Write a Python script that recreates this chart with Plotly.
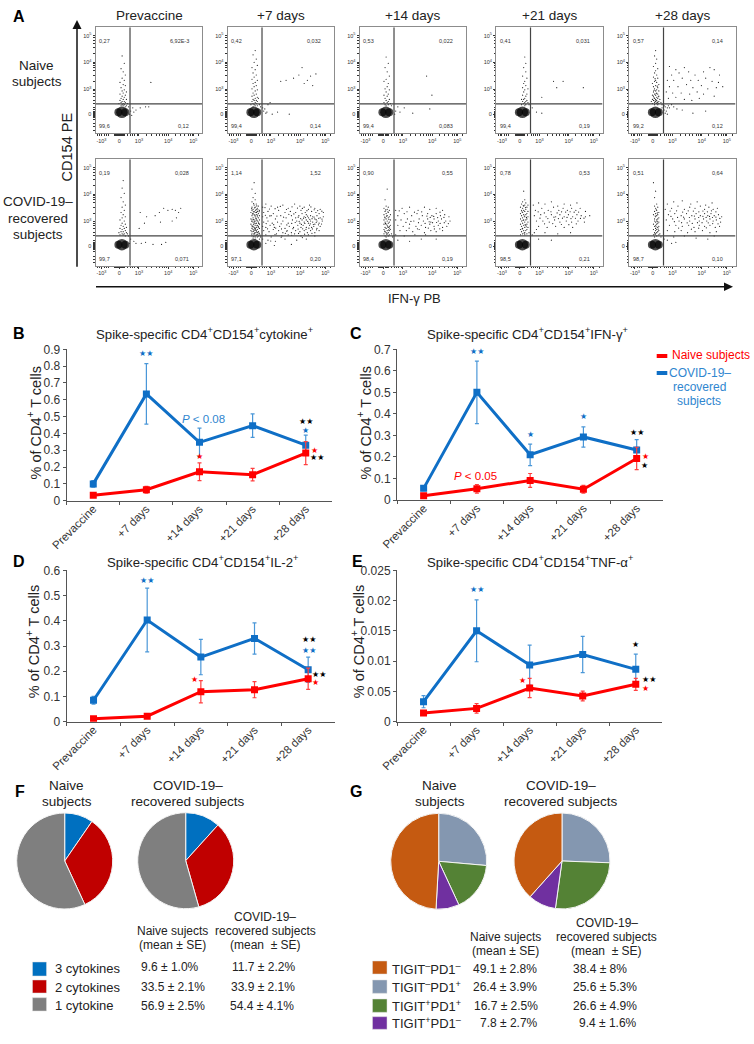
import plotly.graph_objects as go

W, H = 754, 1044
FONT = "Liberation Sans"
BLUE, RED = "#0F6FC6", "#FF0000"

# ---------- Panel A: values (box units 0-100) ----------
days = ["Prevaccine", "+7 days", "+14 days", "+21 days", "+28 days"]
flow_col_px = [(95.5, 202), (227.5, 334), (359.5, 466), (496, 602.5), (629, 735.5)]
flow_row_px = [(27.3, 133.3), (159.3, 265.7)]
flow_q_x, flow_q_y = 32.4, [27.7, 28.1]
flow_xt_val = [5.6, 22.3, 40.8, 68.3, 91.8]
flow_xt_txt = ["-10<sup>3</sup>", "0", "10<sup>3</sup>", "10<sup>4</sup>", "10<sup>5</sup>"]
flow_yt_val = [18.2, 41.5, 67, 92.1]
flow_yt_txt = ["0", "10<sup>3</sup>", "10<sup>4</sup>", "10<sup>5</sup>"]
flow_minor_x = [2, 4, 8, 10, 12, 18, 19, 20, 21, 22, 23, 24, 25, 26, 27, 30, 33, 35, 37, 39, 48, 53, 57, 60, 63, 65, 67, 75, 80, 84, 87, 89, 91, 97]
flow_minor_y = [3, 6, 9, 13, 15, 16, 17, 18, 19, 20, 21, 22, 24, 28, 31, 35, 38, 40, 49, 55, 59, 62, 64, 66, 75, 81, 85, 88, 90]
flow_blob_x = [21.5, 24.8, 28]
flow_blob_y = [19.8, 19.8, 19.8]

gate_naive = [["0,27", "6,92E-3", "99,6", "0,12"], ["0,42", "0,032", "99,4", "0,14"],
              ["0,53", "0,022", "99,4", "0,083"], ["0,41", "0,031", "99,4", "0,19"],
              ["0,57", "0,14", "99,2", "0,12"]]
gate_conv = [["0,19", "0,028", "99,7", "0,071"], ["1,14", "1,52", "97,1", "0,20"],
             ["0,90", "0,55", "98,4", "0,19"], ["0,78", "0,53", "98,5", "0,21"],
             ["0,51", "0,64", "98,7", "0,10"]]

dots_naive_pre = [(25,73),(27,66),(24,61),(26,58),(28,55),(25,52),(27,50),(23,48),(26,46),(28,45),(24,43),(27,41),(25,40),(29,39),(26,38),(23,37),(28,36),(25,35),(27,34),(24,33),(26,32),(29,32),(23,31),(25,30),(27,30),(28,29),(24,29),(26,28),(22,28),(30,28),(25,27),(27,27),(24,26),(29,26),(26,26),(31,25),(28,25),(35,24),(38,22),(42,24),(47,25),(50,25),(36,20),(34,17),(33,21),(52,48),(32,18)]
dots_naive_d7 = [(26,78),(24,74),(27,70),(25,67),(28,64),(23,62),(26,60),(24,57),(27,55),(25,53),(23,51),(28,50),(26,48),(24,47),(27,45),(25,44),(23,42),(28,41),(26,40),(24,38),(27,37),(25,36),(23,35),(28,34),(26,33),(29,33),(24,32),(27,31),(25,31),(23,30),(28,30),(26,29),(24,28),(27,28),(25,27),(30,27),(22,27),(26,26),(28,26),(24,25),(31,25),(33,24),(35,23),(38,27),(40,29),(37,20),(42,18),(47,20),(58,18),(50,49),(55,50),(62,52),(67,55),(70,62),(75,50),(78,54),(83,56),(80,45),(72,47),(34,21),(36,19)]
dots_naive_d14 = [(25,72),(27,66),(24,62),(26,58),(28,54),(25,51),(23,49),(27,47),(26,44),(24,42),(28,41),(25,39),(27,37),(23,36),(26,35),(24,33),(28,32),(25,31),(27,30),(23,29),(26,29),(29,28),(24,27),(27,27),(25,26),(30,26),(63,54),(68,36),(66,23),(50,19),(36,25),(38,20),(42,24),(34,21),(33,18)]
dots_naive_d21 = [(27,72),(28,66),(26,62),(28,58),(25,54),(29,52),(27,49),(26,47),(28,45),(25,43),(30,42),(27,41),(26,39),(29,37),(25,36),(28,35),(27,33),(24,32),(26,32),(29,31),(28,30),(25,30),(27,29),(30,29),(26,28),(24,27),(28,27),(31,27),(27,26),(54,49),(63,49),(57,43),(82,43),(43,34),(38,20),(43,19),(34,24)]
dots_naive_d28 = [(25,78),(24,73),(26,70),(25,66),(23,63),(27,61),(25,59),(24,57),(26,55),(23,53),(27,52),(25,50),(24,49),(26,48),(22,47),(28,46),(25,45),(23,44),(27,43),(24,42),(26,41),(25,40),(28,40),(23,39),(26,38),(24,37),(27,37),(22,36),(25,36),(28,35),(23,35),(26,34),(24,33),(27,33),(25,32),(22,32),(29,32),(26,31),(23,31),(28,30),(25,30),(21,30),(27,29),(24,29),(30,29),(26,28),(22,28),(28,28),(24,27),(31,27),(27,27),(33,26),(31,24),(34,25),(36,24),(33,22),(35,21),(38,24),(37,26),(40,27),(34,19),(36,18),(42,25),(45,23),(50,22),(60,19),(72,21),(38,63),(44,60),(52,62),(40,55),(47,57),(56,58),(62,55),(70,58),(76,62),(80,60),(85,55),(36,50),(42,50),(50,52),(58,50),(65,50),(72,52),(78,49),(84,48),(88,44),(38,44),(46,44),(54,46),(60,43),(68,45),(74,42),(82,43),(35,39),(41,38),(49,38),(57,37),(64,39),(70,37),(80,35),(37,33),(44,34),(52,32),(59,31),(66,33),(24.5,51.5),(26.5,44.5),(23.5,40.5),(25.5,37.5),(27.5,34.5),(24.5,30.5),(26.5,29.5),(23.5,33.5),(25.5,28.5)]
dots_conv_pre = [(26,80),(25,73),(27,68),(24,64),(26,60),(28,57),(25,55),(27,52),(24,50),(26,48),(28,46),(25,45),(23,43),(27,42),(25,40),(28,39),(24,38),(26,37),(29,36),(23,35),(27,35),(25,34),(28,33),(24,32),(26,32),(22,31),(29,31),(27,30),(25,30),(30,30),(23,29),(26,29),(28,28),(31,28),(33,25),(36,23),(32,21),(38,21),(43,21),(47,22),(54,20),(62,20),(66,22),(42,50),(48,46),(56,47),(60,50),(64,54),(68,52),(72,53),(75,52),(78,50),(76,45),(72,42),(80,54),(46,40),(61,41),(41,35)]
dots_conv_d7 = [(25,78),(23,72),(26,68),(24,64),(26,62),(23,60),(27,58),(25,57),(29,56),(23,55),(26,55),(28,54),(24,53),(27,53),(30,52),(23,52),(25,51),(28,51),(26,50),(22,50),(29,49),(24,49),(27,48),(25,48),(30,47),(23,47),(26,46),(28,46),(24,45),(29,45),(22,44),(27,44),(25,43),(30,43),(23,43),(28,42),(26,42),(24,41),(29,41),(27,40),(25,40),(22,39),(30,39),(23,38),(26,38),(28,38),(24,37),(29,37),(27,36),(25,36),(23,35),(30,35),(26,35),(28,34),(24,34),(22,33),(27,33),(25,33),(29,32),(23,32),(26,31),(28,31),(24,30),(30,30),(27,29),(25,29),(23,28),(29,28),(26,27),(31,27),(28,27),(24,26),(26,25),(30,25),(33,55),(36,58),(41,56),(47,55),(52,57),(57,54),(63,58),(68,56),(72,55),(77,57),(82,54),(87,53),(34,50),(38,51),(43,49),(48,52),(54,50),(59,51),(64,50),(69,52),(73,50),(76,53),(79,51),(83,50),(86,49),(90,50),(33,46),(37,45),(41,47),(45,44),(50,47),(55,45),(60,47),(64,45),(67,47),(70,49),(72,46),(74,48),(76,45),(78,47),(80,46),(82,44),(84,47),(87,45),(90,46),(34,41),(38,42),(42,40),(47,41),(52,42),(57,40),(61,43),(65,42),(68,40),(70,43),(72,41),(74,43),(76,40),(78,42),(80,41),(82,39),(84,42),(86,40),(89,42),(33,37),(36,36),(40,38),(44,36),(49,37),(54,35),(58,37),(62,36),(66,38),(69,36),(71,38),(74,36),(77,38),(79,36),(81,37),(84,35),(87,37),(34,33),(39,32),(43,34),(48,33),(52,31),(56,33),(60,31),(64,33),(68,32),(72,33),(75,31),(78,33),(82,31),(86,33),(36,29),(41,27),(46,30),(51,28),(57,29),(63,30),(69,28),(76,29),(82,28),(33,25),(38,24),(45,23),(54,25),(65,24),(74,25),(36,21),(44,19),(60,20),
    (24.5,58.3),(27.5,56.2),(25.5,54.4),(22.7,53.6),(28.6,52.6),(26.4,52.1),(24.2,50.6),(27.3,50.1),(29.7,50.8),(23.4,48.7),(25.8,47.2),(28.2,47.6),(26.6,44.7),(24.3,43.4),(27.6,42.8),(22.9,41.6),(25.4,41.3),(29.3,39.7),(26.7,39.6),(24.6,38.7),(27.8,37.6),(23.2,36.7),(25.6,34.6),(28.9,35.8),(26.3,33.6),(24.4,32.4),(27.4,31.7),(29.6,30.6),(25.3,30.6),(22.6,29.8),(26.8,28.4),(24.7,27.4),(28.4,29.3),(30.6,28.7),(35.2,54.6),(39.4,53.3),(44.7,53.6),(49.6,55.7),(55.4,52.8),(60.6,55.3),(65.7,54.2),(70.3,53.8),(74.6,51.7),(78.3,55.2),(81.4,52.6),(84.7,51.8),(88.6,51.2),(35.6,47.4),(39.7,46.8),(46.4,46.6),(52.7,45.6),(57.6,48.3),(62.3,48.7),(66.4,45.6),(68.7,44.3),(71.4,44.7),(73.3,45.2),(75.2,46.6),(77.3,43.6),(79.4,44.2),(81.3,45.7),(83.2,43.3),(85.6,44.6),(88.7,43.8),(36.3,39.6),(43.4,38.6),(50.4,39.4),(55.7,38.3),(60.3,39.7),(63.6,40.6),(67.3,41.7),(69.4,38.8),(72.6,39.7),(75.3,41.6),(77.7,39.4),(80.6,38.7),(83.3,40.6),(85.4,38.4),(88.3,39.2),(37.6,34.7),(45.3,35.4),(50.7,34.6),(55.6,32.4),(61.4,34.8),(66.3,34.4),(70.6,34.7),(73.7,34.2),(76.4,35.3),(79.7,34.6),(83.6,33.7),(44.6,29.3),(54.3,30.4),(60.3,28.6),(66.7,30.3),(72.4,29.6),(79.3,30.4),(40.6,23.2),(50.4,26.7),(70.3,26.4)]
dots_conv_d14 = [(26,72),(24,62),(25,56),(27,55),(23,54),(26,53),(28,52),(24,51),(27,50),(25,49),(29,48),(23,48),(26,47),(28,46),(24,45),(27,45),(25,44),(23,43),(29,43),(26,42),(28,41),(24,41),(27,40),(25,39),(23,39),(29,38),(26,38),(28,37),(24,36),(27,36),(25,35),(23,34),(29,34),(26,33),(28,33),(24,32),(27,31),(25,31),(30,30),(26,30),(23,30),(28,29),(24,28),(27,28),(31,27),(25,27),(34,52),(40,54),(47,55),(55,52),(61,55),(66,53),(72,54),(78,52),(36,47),(42,49),(49,47),(54,49),(59,47),(64,49),(68,47),(72,49),(76,47),(80,48),(84,46),(34,43),(39,43),(45,44),(51,42),(56,44),(60,42),(64,44),(67,41),(70,44),(74,42),(77,44),(81,42),(85,42),(36,38),(41,37),(47,39),(53,37),(58,38),(62,36),(66,39),(70,37),(74,38),(78,36),(82,37),(38,33),(44,33),(50,32),(56,34),(61,31),(67,33),(72,32),(78,33),(34,29),(42,28),(52,29),(62,29),(36,24),(47,23),(58,25),(72,25),
    (24.6,52.4),(26.7,50.6),(25.4,46.6),(23.7,45.7),(27.6,43.4),(24.4,39.7),(26.4,36.6),(28.3,35.4),(23.6,32.6),(25.6,29.7),(27.4,33.6),(37.3,51.6),(44.6,50.7),(51.6,50.3),(58.4,50.6),(63.3,46.6),(66.4,45.4),(69.7,46.3),(73.4,45.2),(75.6,50.3),(79.3,45.4),(43.6,40.7),(48.3,41.6),(55.4,40.4),(61.6,39.7),(65.4,41.3),(68.6,40.4),(72.4,40.6),(75.7,39.7),(79.6,40.4),(83.4,39.6),(46.6,35.3),(54.4,34.7),(64.6,35.4),(70.3,34.6),(75.4,34.7)]
dots_conv_d21 = [(26,70),(27,62),(25,60),(28,59),(24,58),(27,57),(30,57),(26,56),(23,55),(29,55),(25,54),(28,53),(26,52),(24,52),(30,51),(27,51),(25,50),(29,49),(23,49),(26,48),(28,48),(24,47),(27,46),(30,46),(25,45),(29,44),(23,44),(26,43),(28,43),(24,42),(27,41),(30,41),(25,40),(29,39),(23,39),(26,38),(28,38),(24,37),(27,36),(30,36),(25,35),(29,34),(23,34),(26,33),(28,33),(24,32),(27,31),(31,31),(25,30),(29,30),(23,29),(27,29),(34,29),(36,31),(38,34),(35,57),(40,59),(46,58),(52,60),(58,56),(64,58),(70,57),(76,59),(37,52),(43,54),(49,52),(54,55),(59,52),(63,54),(67,52),(71,54),(75,52),(79,54),(84,51),(36,47),(42,48),(47,46),(52,48),(56,46),(60,48),(64,46),(68,48),(72,46),(76,48),(80,47),(84,46),(88,47),(38,42),(44,42),(50,41),(55,43),(60,41),(66,42),(71,41),(77,42),(83,41),(40,37),(48,36),(56,37),(64,36),(72,36),(46,31),(58,30),(70,31),(40,25),(52,24),
    (25.6,56.6),(27.7,54.6),(24.4,50.7),(26.6,46.7),(28.6,45.4),(25.4,42.6),(27.4,38.6),(24.6,34.6),(26.4,30.7),(28.4,36.6),(39.6,50.6),(45.4,49.6),(51.6,50.7),(57.4,49.6),(61.6,50.6),(65.4,50.4),(69.6,50.7),(73.4,50.3),(77.6,50.4),(41.3,44.7),(48.7,44.3),(54.4,45.6),(58.6,44.3),(62.4,44.7),(66.7,45.4),(70.4,44.3),(74.6,44.6),(79.3,44.4),(82.6,44.7),(45.6,39.4),(53.3,39.6),(61.4,38.7),(68.4,38.6),(75.4,39.4)]
dots_conv_d28 = [(23,78),(25,70),(24,64),(26,58),(24,56),(27,55),(25,54),(26,52),(24,51),(28,50),(25,49),(27,48),(23,48),(26,47),(25,46),(28,45),(24,44),(27,44),(26,43),(24,42),(28,41),(25,41),(27,40),(23,39),(26,39),(25,38),(28,37),(24,37),(27,36),(25,35),(26,34),(23,34),(28,33),(25,33),(27,32),(24,31),(26,31),(29,30),(25,30),(23,29),(28,29),(26,28),(30,27),(24,27),(33,25),(36,24),(40,21),(44,22),(36,58),(42,60),(50,61),(58,58),(64,60),(72,57),(78,59),(34,53),(40,54),(46,56),(52,53),(57,55),(62,54),(67,56),(71,53),(75,55),(79,53),(83,54),(37,48),(43,49),(49,47),(54,49),(59,47),(63,49),(67,47),(71,49),(74,47),(77,49),(80,47),(84,48),(87,46),(35,43),(41,44),(47,42),(52,44),(57,42),(62,44),(66,42),(70,44),(73,42),(76,44),(79,42),(82,43),(86,41),(38,38),(44,38),(50,37),(56,38),(61,36),(66,38),(71,37),(76,38),(81,36),(85,37),(36,33),(43,32),(49,33),(55,31),(62,32),(69,33),(76,31),(82,32),(42,27),(52,28),(63,26),(74,25),(80,28),
    (25.6,52.6),(26.6,49.6),(24.6,46.7),(26.4,41.6),(25.4,36.6),(27.4,34.4),(24.4,29.6),(38.6,51.4),(44.7,51.6),(50.4,50.4),(55.6,51.6),(60.4,51.3),(65.6,50.6),(69.4,51.4),(73.6,50.6),(77.4,51.6),(81.6,50.6),(39.4,46.3),(45.6,45.4),(51.3,45.6),(56.7,45.3),(61.4,46.6),(65.4,45.3),(69.4,46.4),(72.4,45.4),(75.6,46.3),(78.4,45.3),(81.6,45.7),(85.3,44.4),(42.6,41.4),(49.4,40.4),(54.6,40.3),(59.4,39.7),(64.3,40.4),(68.6,40.4),(74.4,40.3),(78.6,39.6),(83.6,39.4),(46.6,35.4),(58.6,34.3),(65.4,35.3),(72.6,35.6)]

dots_rows = [[dots_naive_pre, dots_naive_d7, dots_naive_d14, dots_naive_d21, dots_naive_d28],
             [dots_conv_pre, dots_conv_d7, dots_conv_d14, dots_conv_d21, dots_conv_d28]]

# ---------- Panels B-E ----------
b_blue, b_blue_err = [0.10, 0.635, 0.347, 0.446, 0.33], [0.02, 0.18, 0.085, 0.07, 0.06]
b_red, b_red_err = [0.033, 0.065, 0.172, 0.155, 0.283], [0.01, 0.02, 0.053, 0.037, 0.068]
c_blue, c_blue_err = [0.054, 0.50, 0.21, 0.293, 0.232], [0.01, 0.145, 0.05, 0.047, 0.048]
c_red, c_red_err = [0.02, 0.052, 0.091, 0.05, 0.193], [0.005, 0.02, 0.032, 0.018, 0.052]
d_blue, d_blue_err = [0.085, 0.403, 0.256, 0.33, 0.206], [0.015, 0.126, 0.07, 0.062, 0.05]
d_red, d_red_err = [0.012, 0.022, 0.119, 0.127, 0.17], [0.003, 0.005, 0.044, 0.032, 0.042]
e_blue, e_blue_err = [0.0033, 0.015, 0.00936, 0.0111, 0.00865], [0.001, 0.0051, 0.0033, 0.003, 0.0025]
e_red, e_red_err = [0.00143, 0.0022, 0.00556, 0.00424, 0.00617], [0.0003, 0.0008, 0.0016, 0.0008, 0.001]

b_ticks = [0, .1, .2, .3, .4, .5, .6, .7, .8, .9]
c_ticks = [0, .1, .2, .3, .4, .5, .6, .7]
d_ticks = [0, .1, .2, .3, .4, .5, .6]
e_ticks = [0, .005, .01, .015, .02, .025]
e_tick_text = ["0", "0.05", "0.01", "0.015", "0.02", "0.025"]

b_sig = [(1, .873, "★★", BLUE), (2, .262, "★", RED), (4, .47, "★★", "#000"), (4, .42, "★", BLUE), (4.16, .30, "★", RED), (4.21, .256, "★★", "#000")]
c_sig = [(1, .689, "★★", BLUE), (2, .306, "★", BLUE), (3, .389, "★", BLUE), (4, .314, "★★", "#000"), (4.16, .2, "★", RED), (4.14, .158, "★", "#000")]
d_sig = [(1, .559, "★★", BLUE), (4.01, .325, "★★", "#000"), (4.01, .284, "★★", BLUE), (1.89, .168, "★", RED), (4.2, .189, "★★", "#000"), (4.14, .156, "★", RED)]
e_sig = [(1, .02175, "★★", BLUE), (4, .01283, "★", "#000"), (1.87, .00683, "★", RED), (4.25, .00694, "★★", "#000"), (4.18, .00545, "★", RED)]

# ---------- Panels F, G ----------
f_labels = ["3 cytokines", "2 cytokines", "1 cytokine"]
f_naive, f_conv = [9.6, 33.5, 56.9], [11.7, 33.9, 54.4]
f_colors = ["#0070C0", "#C00000", "#7F7F7F"]
g_labels = ["TIGIT<sup>–</sup>PD1<sup>+</sup>", "TIGIT<sup>+</sup>PD1<sup>+</sup>", "TIGIT<sup>+</sup>PD1<sup>–</sup>", "TIGIT<sup>–</sup>PD1<sup>–</sup>"]
g_naive, g_conv = [26.4, 16.7, 7.8, 49.1], [25.6, 26.6, 9.4, 38.4]
g_colors = ["#8497B0", "#548235", "#7030A0", "#C55A11"]


def px(x):
    return x / W


def py(y):
    return 1 - y / H


anns, shapes, layout_axes = [], [], {}
fig = go.Figure()

# full-page overlay axes, in page pixels, for labels and decorations
OV = 15
layout_axes[f"xaxis{OV}"] = dict(domain=[0, 1], range=[0, W], visible=False, anchor=f"y{OV}", fixedrange=True)
layout_axes[f"yaxis{OV}"] = dict(domain=[0, 1], range=[H, 0], visible=False, anchor=f"x{OV}", fixedrange=True)
OX, OY = f"x{OV}", f"y{OV}"


def text(s, x, y, size=13.5, color="#222", anchor="center", angle=0, family=FONT):
    anns.append(dict(text=s, x=x, y=y, xref=OX, yref=OY, showarrow=False,
                     xanchor=anchor, yanchor="middle", textangle=angle,
                     font=dict(size=size, color=color, family=family)))


# Panel A plots
idx = 0
for r, (top, bot) in enumerate(flow_row_px):
    gates = [gate_naive, gate_conv][r]
    for c, (lft, rgt) in enumerate(flow_col_px):
        idx += 1
        xa, ya = f"x{idx}", f"y{idx}"
        layout_axes[f"xaxis{idx}"] = dict(domain=[px(lft), px(rgt)], range=[0, 100], anchor=ya,
            tickvals=flow_xt_val, ticktext=flow_xt_txt, tickfont=dict(size=5.5, color="#333", family=FONT),
            ticks="outside", ticklen=2, tickwidth=1, tickcolor="#333", tickangle=0,
            minor=dict(tickvals=flow_minor_x, ticklen=1.5, ticks="outside", tickcolor="#333"),
            showgrid=False, zeroline=False, showline=True, mirror=True, linecolor="#8c8c8c", linewidth=1)
        layout_axes[f"yaxis{idx}"] = dict(domain=[py(bot), py(top)], range=[0, 100], anchor=xa,
            tickvals=flow_yt_val, ticktext=flow_yt_txt, tickfont=dict(size=5.5, color="#333", family=FONT),
            ticks="outside", ticklen=2, tickwidth=1, tickcolor="#333",
            minor=dict(tickvals=flow_minor_y, ticklen=1.5, ticks="outside", tickcolor="#333"),
            showgrid=False, zeroline=False, showline=True, mirror=True, linecolor="#8c8c8c", linewidth=1)
        pts = dots_rows[r][c]
        fig.add_trace(go.Scatter(x=[p[0] for p in pts], y=[p[1] for p in pts], mode="markers", xaxis=xa, yaxis=ya,
                                 marker=dict(size=1.2, color="#222", line=dict(width=0)), showlegend=False))
        fig.add_trace(go.Scatter(x=flow_blob_x, y=flow_blob_y, mode="markers", xaxis=xa, yaxis=ya,
                                 marker=dict(size=[8, 11.5, 8], color="#000", line=dict(width=0)), showlegend=False))
        shapes.append(dict(type="line", xref=xa, yref=ya, x0=flow_q_x, x1=flow_q_x, y0=0, y1=100,
                           line=dict(color="#444", width=1.2), layer="above"))
        shapes.append(dict(type="line", xref=xa, yref=ya, x0=0, x1=100, y0=flow_q_y[r], y1=flow_q_y[r],
                           line=dict(color="#444", width=1.2), layer="above"))
        for s, gx, gy, anc in zip(gates[c], [1.5, 90, 1.5, 90], [87.5, 87.5, 6.5, 6.5], ["left", "right", "left", "right"]):
            anns.append(dict(text=s, x=gx, y=gy, xref=xa, yref=ya, showarrow=False, xanchor=anc, yanchor="middle",
                             font=dict(size=5.5, color="#333", family=FONT)))

for d, (lft, rgt) in zip(days, flow_col_px):
    text(d, (lft + rgt) / 2 - (0 if d != "Prevaccine" else -1), 15.7, 13.5)
text("Naive", 36.7, 65); text("subjects", 36.7, 81)
text("COVID-19–", 38, 201.7); text("recovered", 38, 218); text("subjects", 38, 234)
text("CD154 PE", 66.7, 146.7, 14.5, angle=-90)
text("IFN-γ PB", 414, 298, 13)
shapes += [
    dict(type="line", xref=OX, yref=OY, x0=77, x1=77, y0=266.7, y1=26, line=dict(color="#111", width=1.5)),
    dict(type="path", xref=OX, yref=OY, path="M 72.5 29 L 81.5 29 L 77 20 Z", fillcolor="#111", line=dict(width=0)),
    dict(type="line", xref=OX, yref=OY, x0=96, x1=726, y0=286.7, y1=286.7, line=dict(color="#111", width=1.5)),
    dict(type="path", xref=OX, yref=OY, path="M 724 282.5 L 724 291 L 733 286.7 Z", fillcolor="#111", line=dict(width=0)),
]

# Panels B-E
panels = [
    ((66.7, 332.3), (349.3, 500.7), (0, .9), b_blue, b_blue_err, b_red, b_red_err, b_ticks, [f"{v:g}" for v in b_ticks], b_sig),
    ((397, 663.3), (349.3, 500), (0, .7), c_blue, c_blue_err, c_red, c_red_err, c_ticks, [f"{v:g}" for v in c_ticks], c_sig),
    ((66.7, 335), (570.3, 721.7), (0, .6), d_blue, d_blue_err, d_red, d_red_err, d_ticks, [f"{v:g}" for v in d_ticks], d_sig),
    ((397, 662.3), (570.3, 721.7), (0, .025), e_blue, e_blue_err, e_red, e_red_err, e_ticks, e_tick_text, e_sig),
]
for (xd, yd, yr, bl, ble, rd, rde, tv, tt, sig) in panels:
    idx += 1
    xa, ya = f"x{idx}", f"y{idx}"
    layout_axes[f"xaxis{idx}"] = dict(domain=[px(xd[0]), px(xd[1])], type="category", range=[-0.5, 4.5], anchor=ya,
        tickson="boundaries", ticks="outside", ticklen=3, tickcolor="#555", tickangle=-45, ticklabelstandoff=-4,
        tickfont=dict(size=11.5, color="#333", family=FONT), showline=True, linecolor="#555", linewidth=1,
        showgrid=False, zeroline=False, categoryorder="array", categoryarray=days)
    layout_axes[f"yaxis{idx}"] = dict(domain=[py(yd[1]), py(yd[0])], range=list(yr), anchor=xa,
        tickvals=tv, ticktext=tt, ticks="outside", ticklen=3, tickcolor="#555",
        tickfont=dict(size=12, color="#333", family=FONT), showline=True, linecolor="#555", linewidth=1,
        showgrid=False, zeroline=False)
    for vals, errs, col, ecol in [(bl, ble, BLUE, "#4a97d8"), (rd, rde, RED, "#ff4040")]:
        fig.add_trace(go.Scatter(x=days, y=vals, mode="lines+markers", xaxis=xa, yaxis=ya, showlegend=False,
                                 line=dict(color=col, width=3), marker=dict(symbol="square", size=7, color=col),
                                 error_y=dict(type="data", array=errs, color=ecol, thickness=1.2, width=2)))
    for sx, sy, st, sc in sig:
        anns.append(dict(text=st, x=sx, y=sy, xref=xa, yref=ya, showarrow=False, xanchor="center", yanchor="middle",
                         font=dict(size=8, color=sc, family="DejaVu Sans")))

anns.append(dict(text="<i>P</i> &lt; 0.08", x=2.07, y=.486, xref="x11", yref="y11", showarrow=False,
                 font=dict(size=11.5, color="#2f86cf", family=FONT)))
anns.append(dict(text="<i>P</i> &lt; 0.05", x=.97, y=.113, xref="x12", yref="y12", showarrow=False,
                 font=dict(size=11.5, color=RED, family=FONT)))

text("Spike-specific CD4<sup>+</sup>CD154<sup>+</sup>cytokine<sup>+</sup>", 204, 333, 13.2)
text("Spike-specific CD4<sup>+</sup>CD154<sup>+</sup>IFN-γ<sup>+</sup>", 527, 333, 13.2)
text("Spike-specific CD4<sup>+</sup>CD154<sup>+</sup>IL-2<sup>+</sup>", 202, 561, 13.2)
text("Spike-specific CD4<sup>+</sup>CD154<sup>+</sup>TNF-α<sup>+</sup>", 530, 561, 13.2)
ytitle = "% of CD4<sup>+</sup> T cells"
text(ytitle, 34.5, 423, 14.5, angle=-90)
text(ytitle, 364.5, 423, 14.5, angle=-90)
text(ytitle, 32.5, 641.7, 14.5, angle=-90)
text(ytitle, 357.5, 641.7, 14.5, angle=-90)

for l, x, y in [("A", 19, 16), ("B", 18.5, 333), ("C", 355.5, 333), ("D", 18.5, 561), ("E", 357, 561), ("F", 19.5, 791), ("G", 355.5, 791)]:
    text(f"<b>{l}</b>", x, y, 16, "#000")

# legend
shapes.append(dict(type="rect", xref=OX, yref=OY, x0=656.7, x1=667.3, y0=354, y1=358, fillcolor=RED, line=dict(width=0)))
shapes.append(dict(type="rect", xref=OX, yref=OY, x0=656.7, x1=667.3, y0=371, y1=375, fillcolor=BLUE, line=dict(width=0)))
text("Naive subjects", 669.7, 355, 12, RED, "left")
text("COVID-19–", 700, 373, 12, "#2f86cf")
text("recovered", 699, 387, 12, "#2f86cf")
text("subjects", 699, 401, 12, "#2f86cf")

# Pies
R = 48
for vals, cols, cx, cy in [(f_naive, f_colors, 64.7, 861), (f_conv, f_colors, 185.7, 860.7),
                           (g_naive, g_colors, 438.7, 861.3), (g_conv, g_colors, 562, 861)]:
    fig.add_trace(go.Pie(values=vals, marker=dict(colors=cols, line=dict(color="#f4f4f4", width=1)), sort=False,
                         direction="clockwise", rotation=0, textinfo="none", showlegend=False,
                         domain=dict(x=[px(cx - R), px(cx + R)], y=[py(cy + R), py(cy - R)])))

text("Naive", 66.7, 785.7); text("subjects", 66.7, 801)
text("COVID-19–", 188, 785.7); text("recovered subjects", 188, 801)
text("Naive", 439.7, 785.7); text("subjects", 439.7, 801)
text("COVID-19–", 561.3, 785.7); text("recovered subjects", 561.3, 801)

# F table
text("Naive sujects", 172, 931, 12); text("(mean ± SE)", 172, 945, 12)
text("COVID-19–", 265, 916.7, 12); text("recovered subjects", 265, 931, 12); text("(mean  ± SE)", 265, 945, 12)
for lab, col, y0, y1, ty, a, ax, b, bx, vy in [
    ("3 cytokines", "#0070C0", 962, 976, 968.7, "9.6 ± 1.0%", 170, "11.7 ± 2.2%", 263, 966.7),
    ("2 cytokines", "#C00000", 980, 993, 987, "33.5 ± 2.1%", 173, "33.9 ± 2.1%", 263, 987),
    ("1 cytokine", "#7F7F7F", 997.7, 1011, 1005, "56.9 ± 2.5%", 173, "54.4 ± 4.1%", 262, 1006)]:
    shapes.append(dict(type="rect", xref=OX, yref=OY, x0=32.5, x1=46.5, y0=y0, y1=y1, fillcolor=col, line=dict(color="#dddddd", width=0.5)))
    text(lab, 52.5, ty, 13, anchor="left")
    text(a, ax, vy, 12); text(b, bx, vy, 12)

# G table
text("Naive sujects", 505.7, 936.7, 12); text("(mean ± SE)", 505.7, 951, 12)
text("COVID-19–", 606.7, 922.7, 12); text("recovered subjects", 606.7, 936.7, 12); text("(mean  ± SE)", 606.7, 951, 12)
for lab, col, y0, y1, ty, a, ax, b, bx in [
    (g_labels[3], g_colors[3], 961, 974, 968.7, "49.1 ± 2.8%", 505, "38.4 ± 8%", 600),
    (g_labels[0], g_colors[0], 980, 993.3, 987, "26.4 ± 3.9%", 505.3, "25.6 ± 5.3%", 605),
    (g_labels[1], g_colors[1], 999, 1012.3, 1006, "16.7 ± 2.5%", 505.7, "26.6 ± 4.9%", 605),
    (g_labels[2], g_colors[2], 1016.7, 1029.3, 1023, "7.8 ± 2.7%", 509, "9.4 ± 1.6%", 608.3)]:
    shapes.append(dict(type="rect", xref=OX, yref=OY, x0=372.5, x1=387, y0=y0, y1=y1, fillcolor=col, line=dict(color="#dddddd", width=0.5)))
    text(lab, 389.8, ty, 13, anchor="left")
    text(a, ax, ty, 12); text(b, bx, ty, 12)

fig.update_layout(width=W, height=H, autosize=False,
                  margin=dict(l=0, r=0, t=0, b=0, pad=0, autoexpand=False), paper_bgcolor="white",
                  plot_bgcolor="rgba(0,0,0,0)", showlegend=False, annotations=anns, shapes=shapes,
                  font=dict(family=FONT), **layout_axes)
fig.write_html("out.html", config={"displayModeBar": False}, post_script="document.body.style.margin='0';")
